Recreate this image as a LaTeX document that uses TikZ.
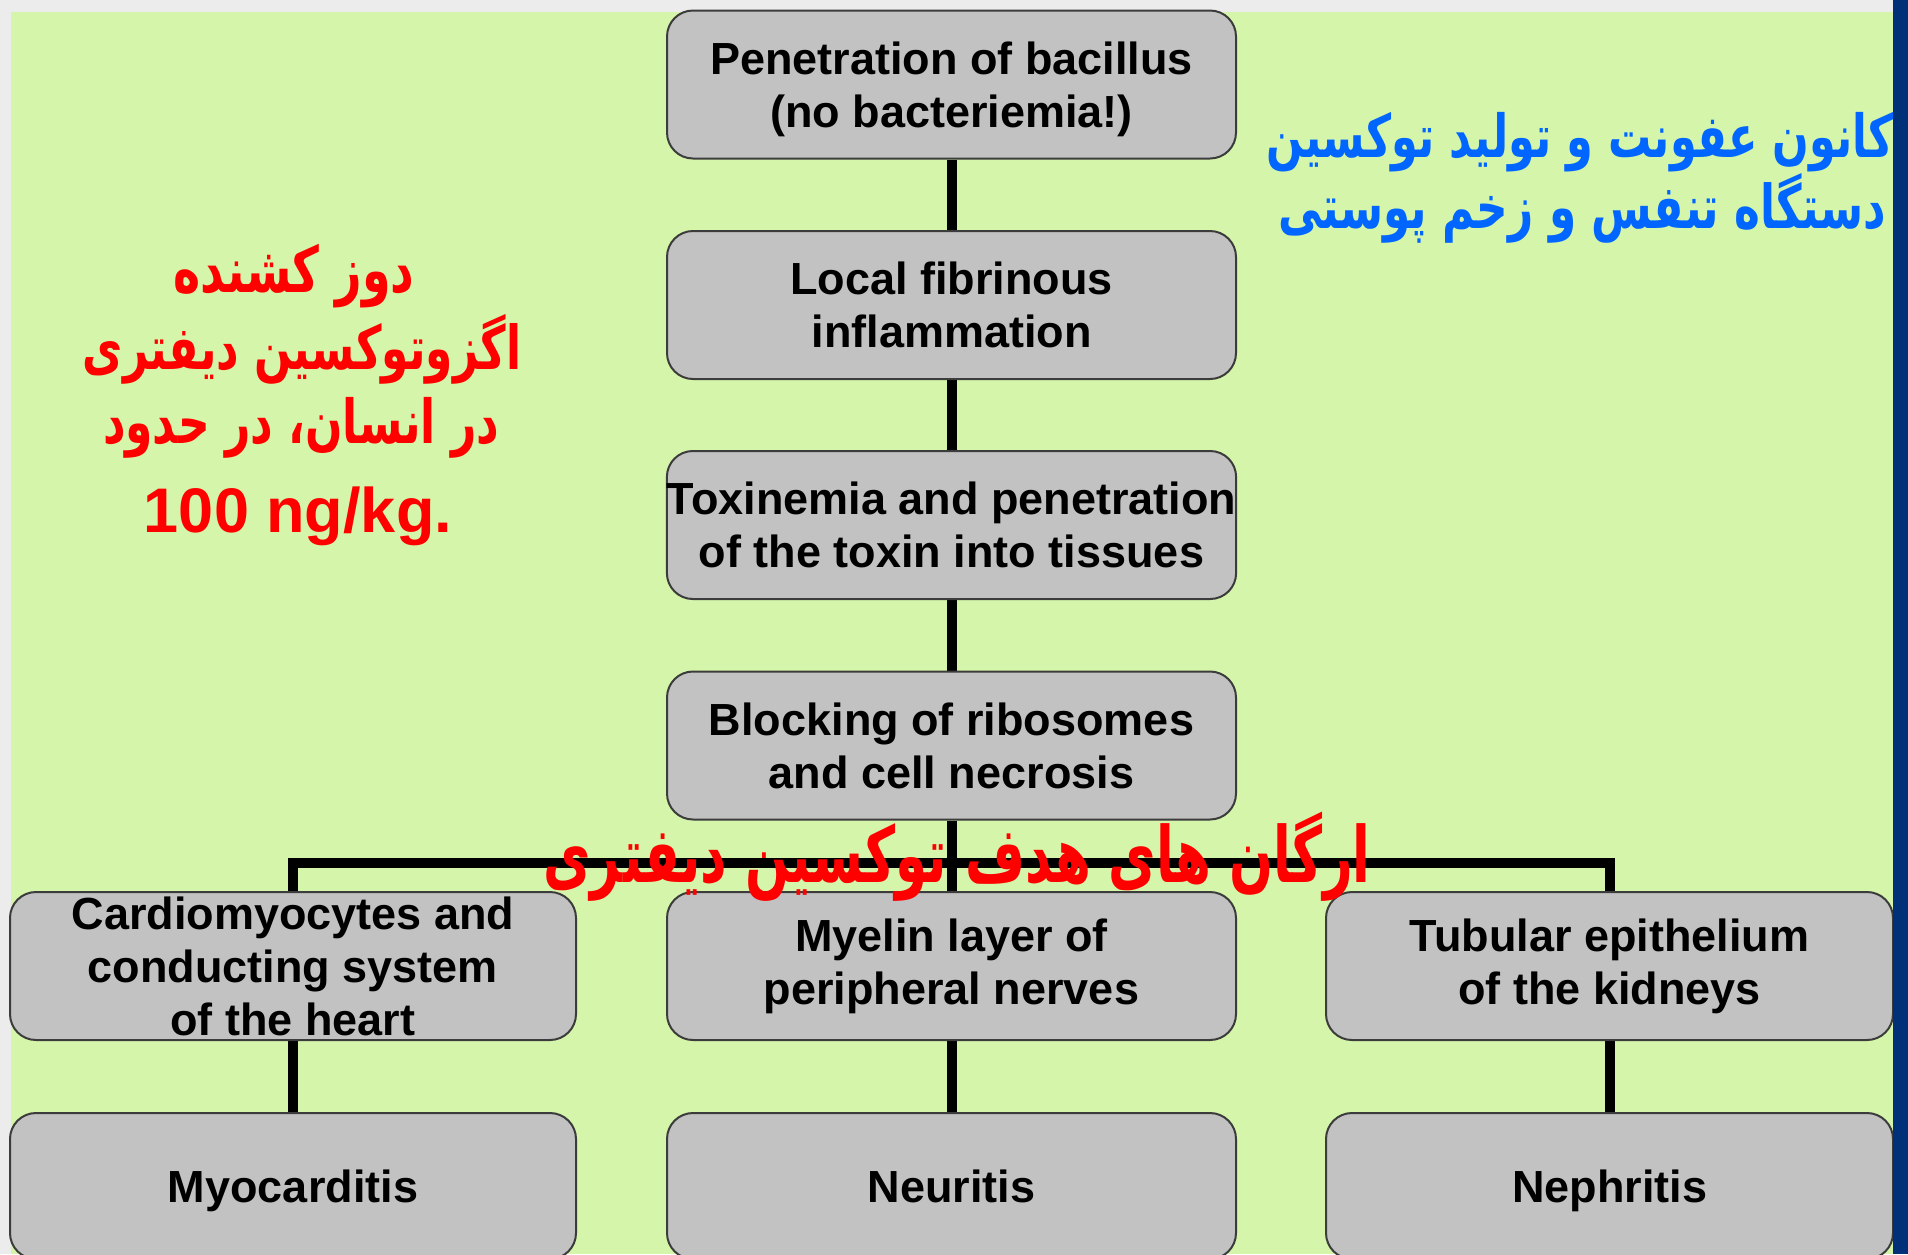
\documentclass[tikz,border=0pt]{standalone}
\usepackage{fontspec}
\usepackage{graphicx}
\setmainfont{Liberation Sans}
\newfontfamily\arabicfont[Script=Arabic]{DejaVu Sans}
\TeXXeTstate=1
\definecolor{bggreen}{RGB}{213,245,170}
\definecolor{boxgray}{RGB}{194,194,194}
\definecolor{boxedge}{RGB}{60,60,60}
\definecolor{stripblue}{RGB}{0,48,120}
\definecolor{stripgray}{RGB}{236,236,236}
\definecolor{pblue}{RGB}{0,102,255}
\definecolor{pred}{RGB}{255,0,0}
\pgfdeclarelayer{back}
\pgfdeclarelayer{mid}
\pgfdeclarelayer{front}
\pgfsetlayers{back,mid,main,front}
\newcommand{\fatext}[3]{\scalebox{1}[#2]{\resizebox{#1}{!}{#3}}}
\begin{document}
\begin{tikzpicture}[x=1pt,y=-1pt,
  stepbox/.style={draw=boxedge, line width=2pt, fill=boxgray, rounded corners=26pt,
    minimum width=569pt, minimum height=148pt, align=center, inner sep=0pt,
    font=\fontsize{45}{53}\selectfont\bfseries},
  endbox/.style={stepbox, minimum height=146pt, text height=32pt, text depth=0pt},
  conn/.style={line width=10pt, draw=black},
  ptext/.style={inner sep=0pt, font=\arabicfont\bfseries\fontsize{50}{60}\selectfont}]
\useasboundingbox (0,0) rectangle (1908,1254);
\begin{pgfonlayer}{back}
  \fill[stripgray] (0,0) rectangle (1908,1254);
  \fill[bggreen] (11,12) rectangle (1908,1254);
\end{pgfonlayer}
% boxes
\node[stepbox] (b1) at (951.5,84.5) {Penetration of bacillus\\\raisebox{0pt}[\height][0pt]{(no bacteriemia!)}};
\node[stepbox] (b2) at (951.5,305) {Local fibrinous\\inflammation};
\node[stepbox] (b3) at (951.5,525) {Toxinemia and penetration\\of the toxin into tissues};
\node[stepbox] (b4) at (951.5,745.5) {Blocking of ribosomes\\and cell necrosis};
\node[stepbox, minimum width=566pt] (c1) at (293,966) {Cardiomyocytes and\\conducting system\\of the heart};
\node[stepbox] (c2) at (951.5,966) {Myelin layer of\\peripheral nerves};
\node[stepbox, minimum width=567pt] (c3) at (1609.5,966) {Tubular epithelium\\of the kidneys};
\node[endbox, minimum width=566pt] (d1) at (293,1186) {Myocarditis};
\node[endbox] (d2) at (951.5,1186) {Neuritis};
\node[endbox, minimum width=567pt] (d3) at (1609.5,1186) {Nephritis};
\coordinate (jm) at (951.5,863);
% connectors
\begin{pgfonlayer}{mid}
  \draw[conn] (b1) -- (b2);
  \draw[conn] (b2) -- (b3);
  \draw[conn] (b3) -- (b4);
  \draw[conn] (b4) -- (c2);
  \draw[conn] (c1.north) |- (jm) -| (c3.north);
  \draw[conn] (c1) -- (d1);
  \draw[conn] (c2) -- (d2);
  \draw[conn] (c3) -- (d3);
\end{pgfonlayer}
% Persian texts
\node[ptext, text=pblue] (bl1) at (1580,142) {\fatext{627pt}{1.38}{\beginR کانون عفونت و تولید توکسین\endR}};
\node[ptext, text=pblue] (bl2) at (1582,208) {\fatext{608pt}{1.38}{\beginR دستگاه تنفس و زخم پوستی\endR}};
\node[ptext, text=pred] (r1) at (294,276) {\fatext{241pt}{1.38}{\beginR دوز کشنده\endR}};
\node[ptext, text=pred] (r2) at (302,349) {\fatext{438pt}{1.38}{\beginR اگزوتوکسین دیفتری\endR}};
\node[ptext, text=pred] (r3) at (301,428) {\fatext{396pt}{1.38}{\beginR در انسان، در حدود\endR}};
\node[inner sep=0pt, anchor=base, text=pred, font=\fontsize{63}{70}\selectfont\bfseries] (r4) at (298,532) {100 ng/kg.};
\node[ptext, text=pred] (mid) at (957,857) {\fatext{827pt}{1.5}{\beginR ارگان های هدف توکسین دیفتری\endR}};
\begin{pgfonlayer}{front}
  \fill[stripblue] (1893,0) rectangle (1908,1254);
\end{pgfonlayer}
\end{tikzpicture}
\end{document}
